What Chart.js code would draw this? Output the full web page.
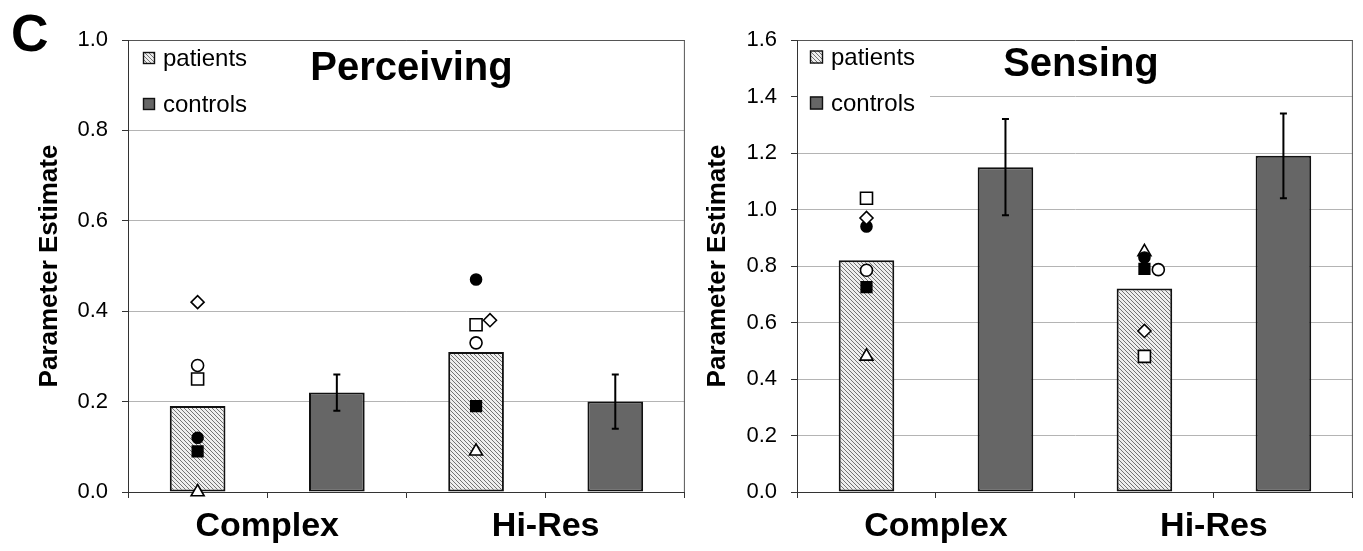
<!DOCTYPE html>
<html><head><meta charset="utf-8">
<script src="https://cdn.jsdelivr.net/npm/chart.js@4.4.1/dist/chart.umd.min.js"></script>
<style>
html,body{margin:0;padding:0;background:#fff;}
#wrap{position:relative;width:1363px;height:551px;overflow:hidden;background:#fff;}
.panel{position:absolute;top:0;height:551px;}
#p1{left:0;width:695px;}
#p2{left:695px;width:668px;}
</style></head><body>
<div id="wrap">
  <div class="panel" id="p1"><canvas id="c1"></canvas></div>
  <div class="panel" id="p2"><canvas id="c2"></canvas></div>
</div>
<script>
// ---------- DATA ----------
const conditions = ['Complex', 'Hi-Res'];
const seriesNames = ['patients', 'controls'];

// Perceiving panel
const perceivingPatients = [0.19, 0.31];
const perceivingControls = [0.22, 0.20];
const perceivingControlsErr = [0.04, 0.06];
const perceivingDiamond = [0.42, 0.38];
const perceivingOpenCircle = [0.28, 0.33];
const perceivingOpenSquare = [0.25, 0.37];
const perceivingFilledCircle = [0.12, 0.47];
const perceivingFilledSquare = [0.09, 0.19];
const perceivingTriangle = [0.00, 0.09];

// Sensing panel
const sensingPatients = [0.82, 0.72];
const sensingControls = [1.15, 1.19];
const sensingControlsErr = [0.17, 0.15];
const sensingDiamond = [0.97, 0.57];
const sensingOpenCircle = [0.785, 0.787];
const sensingOpenSquare = [1.04, 0.48];
const sensingFilledCircle = [0.94, 0.83];
const sensingFilledSquare = [0.725, 0.79];
const sensingTriangle = [0.48, 0.85];

// ---------- STYLE ----------
const FONT = "'Liberation Sans', Arial, Helvetica, sans-serif";
const CTRL = '#666666';
function makeHatch() {
  const c = document.createElement('canvas');
  c.width = 4; c.height = 4;
  const g = c.getContext('2d');
  g.fillStyle = '#eeeeee'; g.fillRect(0, 0, 4, 4);
  g.strokeStyle = '#737373'; g.lineWidth = 1;
  g.beginPath();
  g.moveTo(-1, -1); g.lineTo(5, 5);
  g.moveTo(-1, 3); g.lineTo(1, 5);
  g.moveTo(3, -1); g.lineTo(5, 1);
  g.stroke();
  return g.createPattern(c, 'repeat');
}
const HATCH = makeHatch();

const markerStyles = [
  {name: 'diamond',  pointStyle: 'rectRot',  r: 6.5, fill: '#ffffff'},
  {name: 'openCircle', pointStyle: 'circle', r: 6,   fill: '#ffffff'},
  {name: 'openSquare', pointStyle: 'rect',   r: 8.5, fill: '#ffffff'},
  {name: 'filledCircle', pointStyle: 'circle', r: 5.5, fill: '#000000'},
  {name: 'filledSquare', pointStyle: 'rect', r: 7.5, fill: '#000000'},
  {name: 'triangle', pointStyle: 'triangle', r: 7.5, fill: '#ffffff'}
];

// x layout: each condition spans 2 unit slots (patients slot, controls slot)
function barPoints(patients, controls) {
  const out = [];
  patients.forEach((v, i) => {
    out.push({x: i * 2 + 0.5, y: v});
    out.push({x: i * 2 + 1.5, y: controls[i]});
  });
  return out;
}

const decor = {
  id: 'decor',
  afterDatasetsDraw(chart) {
    const o = chart.options.plugins.decor;
    const ctx = chart.ctx, ys = chart.scales.y;
    const meta = chart.getDatasetMeta(0);
    ctx.save();
    ctx.strokeStyle = '#000'; ctx.lineWidth = 2;
    o.controls.forEach((v, i) => {
      const el = meta.data[i * 2 + 1];
      const x = el.x;
      const yT = ys.getPixelForValue(v + o.err[i]);
      const yB = ys.getPixelForValue(v - o.err[i]);
      ctx.beginPath();
      ctx.moveTo(x, yT); ctx.lineTo(x, yB);
      ctx.moveTo(x - 3.5, yT); ctx.lineTo(x + 3.5, yT);
      ctx.moveTo(x - 3.5, yB); ctx.lineTo(x + 3.5, yB);
      ctx.stroke();
    });
    ctx.restore();
  },
  afterDraw(chart) {
    const o = chart.options.plugins.decor;
    const ctx = chart.ctx, a = chart.chartArea;
    ctx.save();
    ctx.strokeStyle = '#555'; ctx.lineWidth = 1;
    ctx.beginPath(); ctx.moveTo(a.right - 0.5, a.top); ctx.lineTo(a.right - 0.5, a.bottom); ctx.stroke();
    // legend
    ctx.fillStyle = '#fff';
    ctx.fillRect(a.left + 1, a.top + 1, o.legend.w, o.legend.h);
    ctx.font = '24px ' + FONT;
    ctx.textBaseline = 'alphabetic';
    ctx.textAlign = 'left';
    seriesNames.forEach((n, i) => {
      const base = o.legend.baselines[i];
      const s = o.legend.box;
      const bx = a.left + o.legend.boxX, by = base - 8 - s / 2;
      ctx.fillStyle = i === 0 ? HATCH : CTRL;
      ctx.fillRect(bx, by, s, s);
      ctx.strokeStyle = '#111'; ctx.lineWidth = 1.4;
      ctx.strokeRect(bx + 0.5, by + 0.5, s - 1, s - 1);
      ctx.fillStyle = '#000';
      ctx.fillText(n, a.left + o.legend.textX, base);
    });
    // panel title
    ctx.font = 'bold 40px ' + FONT;
    ctx.textAlign = 'center';
    ctx.fillStyle = '#000';
    ctx.fillText(o.title, (a.left + a.right) / 2 + o.titleDx, o.titleBase);
    if (o.letter) {
      ctx.font = 'bold 52px ' + FONT;
      ctx.textAlign = 'left';
      ctx.fillText(o.letter, 11, 51);
    }
    ctx.restore();
  }
};

function makeChart(id, cfg) {
  const datasets = [
    {type: 'bar', label: 'patients / controls', data: barPoints(cfg.patients, cfg.controls),
     xAxisID: 'x', yAxisID: 'y',
     backgroundColor: [HATCH, CTRL, HATCH, CTRL], borderColor: '#111', borderWidth: 2,
     borderSkipped: false, barPercentage: 0.4, categoryPercentage: 1.0, order: 2}
  ];
  markerStyles.forEach((m, k) => {
    const vals = cfg.subjects[k];
    const shift = cfg.shift[k];
    datasets.push({
      type: 'scatter', label: m.name, xAxisID: 'x', yAxisID: 'y', order: 1, clip: false,
      data: vals.map((v, i) => ({x: i * 2 + 0.5 + shift[i], y: v})),
      pointStyle: m.pointStyle, pointRadius: m.r, pointHoverRadius: m.r,
      backgroundColor: m.fill, borderColor: '#000', borderWidth: 1.6
    });
  });
  const yMax = cfg.yMax;
  return new Chart(document.getElementById(id), {
    type: 'bar',
    data: {datasets},
    options: {
      responsive: true, maintainAspectRatio: false, animation: false,
      events: [],
      layout: {padding: {left: 0, right: cfg.padRight, top: 40, bottom: 0}},
      plugins: {
        legend: {display: false}, tooltip: {enabled: false},
        decor: {controls: cfg.controls, err: cfg.err, title: cfg.title, titleDx: cfg.titleDx,
                titleBase: cfg.titleBase, letter: cfg.letter, legend: cfg.legend}
      },
      scales: {
        x: {type: 'linear', position: 'bottom', min: 0, max: 4, offset: false, weight: 0,
            grid: {offset: false, drawOnChartArea: false, tickLength: 6, color: '#333', tickColor: '#333'},
            border: {color: '#333', width: 1},
            ticks: {display: false, stepSize: 1, autoSkip: false},
            afterFit: s => { s.height = 8; }},
        xl: {type: 'category', position: 'bottom', labels: conditions, offset: true, weight: 1,
             grid: {display: false, drawTicks: false}, border: {display: false},
             ticks: {padding: 6, color: '#000', font: {family: FONT, size: 34, weight: 'bold'}, maxRotation: 0, autoSkip: false},
             afterFit: s => { s.height = 51; }},
        y: {type: 'linear', position: 'left', min: 0, max: yMax,
            ticks: {stepSize: 0.2, padding: 14, color: '#000', font: {family: FONT, size: 22},
                    callback: v => Number(v).toFixed(1)},
            grid: {color: c => (c.tick && c.tick.value > yMax - 1e-6) ? '#555' : '#b4b4b4',
                   lineWidth: 1, drawTicks: true, tickLength: 6, tickColor: '#333'},
            border: {color: '#333', width: 1},
            title: {display: true, text: 'Parameter Estimate', color: '#000',
                    font: {family: FONT, size: 26, weight: 'bold'}, padding: {top: cfg.yTitlePad, bottom: 0}},
            afterFit: s => { s.width = cfg.yWidth; }}
      }
    },
    plugins: [decor]
  });
}

makeChart('c1', {
  patients: perceivingPatients, controls: perceivingControls, err: perceivingControlsErr,
  subjects: [perceivingDiamond, perceivingOpenCircle, perceivingOpenSquare, perceivingFilledCircle, perceivingFilledSquare, perceivingTriangle],
  shift: [[0, 0.1], [0, 0], [0, 0], [0, 0], [0, 0], [0, 0]],
  yMax: 1.0, yWidth: 128, yTitlePad: 34, padRight: 8,
  title: 'Perceiving', titleDx: 5, titleBase: 80, letter: 'C',
  legend: {w: 130, h: 84, boxX: 15, box: 12, textX: 35, baselines: [66, 112]}
});
makeChart('c2', {
  patients: sensingPatients, controls: sensingControls, err: sensingControlsErr,
  subjects: [sensingDiamond, sensingOpenCircle, sensingOpenSquare, sensingFilledCircle, sensingFilledSquare, sensingTriangle],
  shift: [[0, 0], [0, 0.1], [0, 0], [0, 0], [0, 0], [0, 0]],
  yMax: 1.6, yWidth: 102, yTitlePad: 7, padRight: 10,
  title: 'Sensing', titleDx: 6, titleBase: 76, letter: null,
  legend: {w: 132, h: 78, boxX: 13, box: 13, textX: 34, baselines: [65, 111]}
});
</script>
</body></html>
